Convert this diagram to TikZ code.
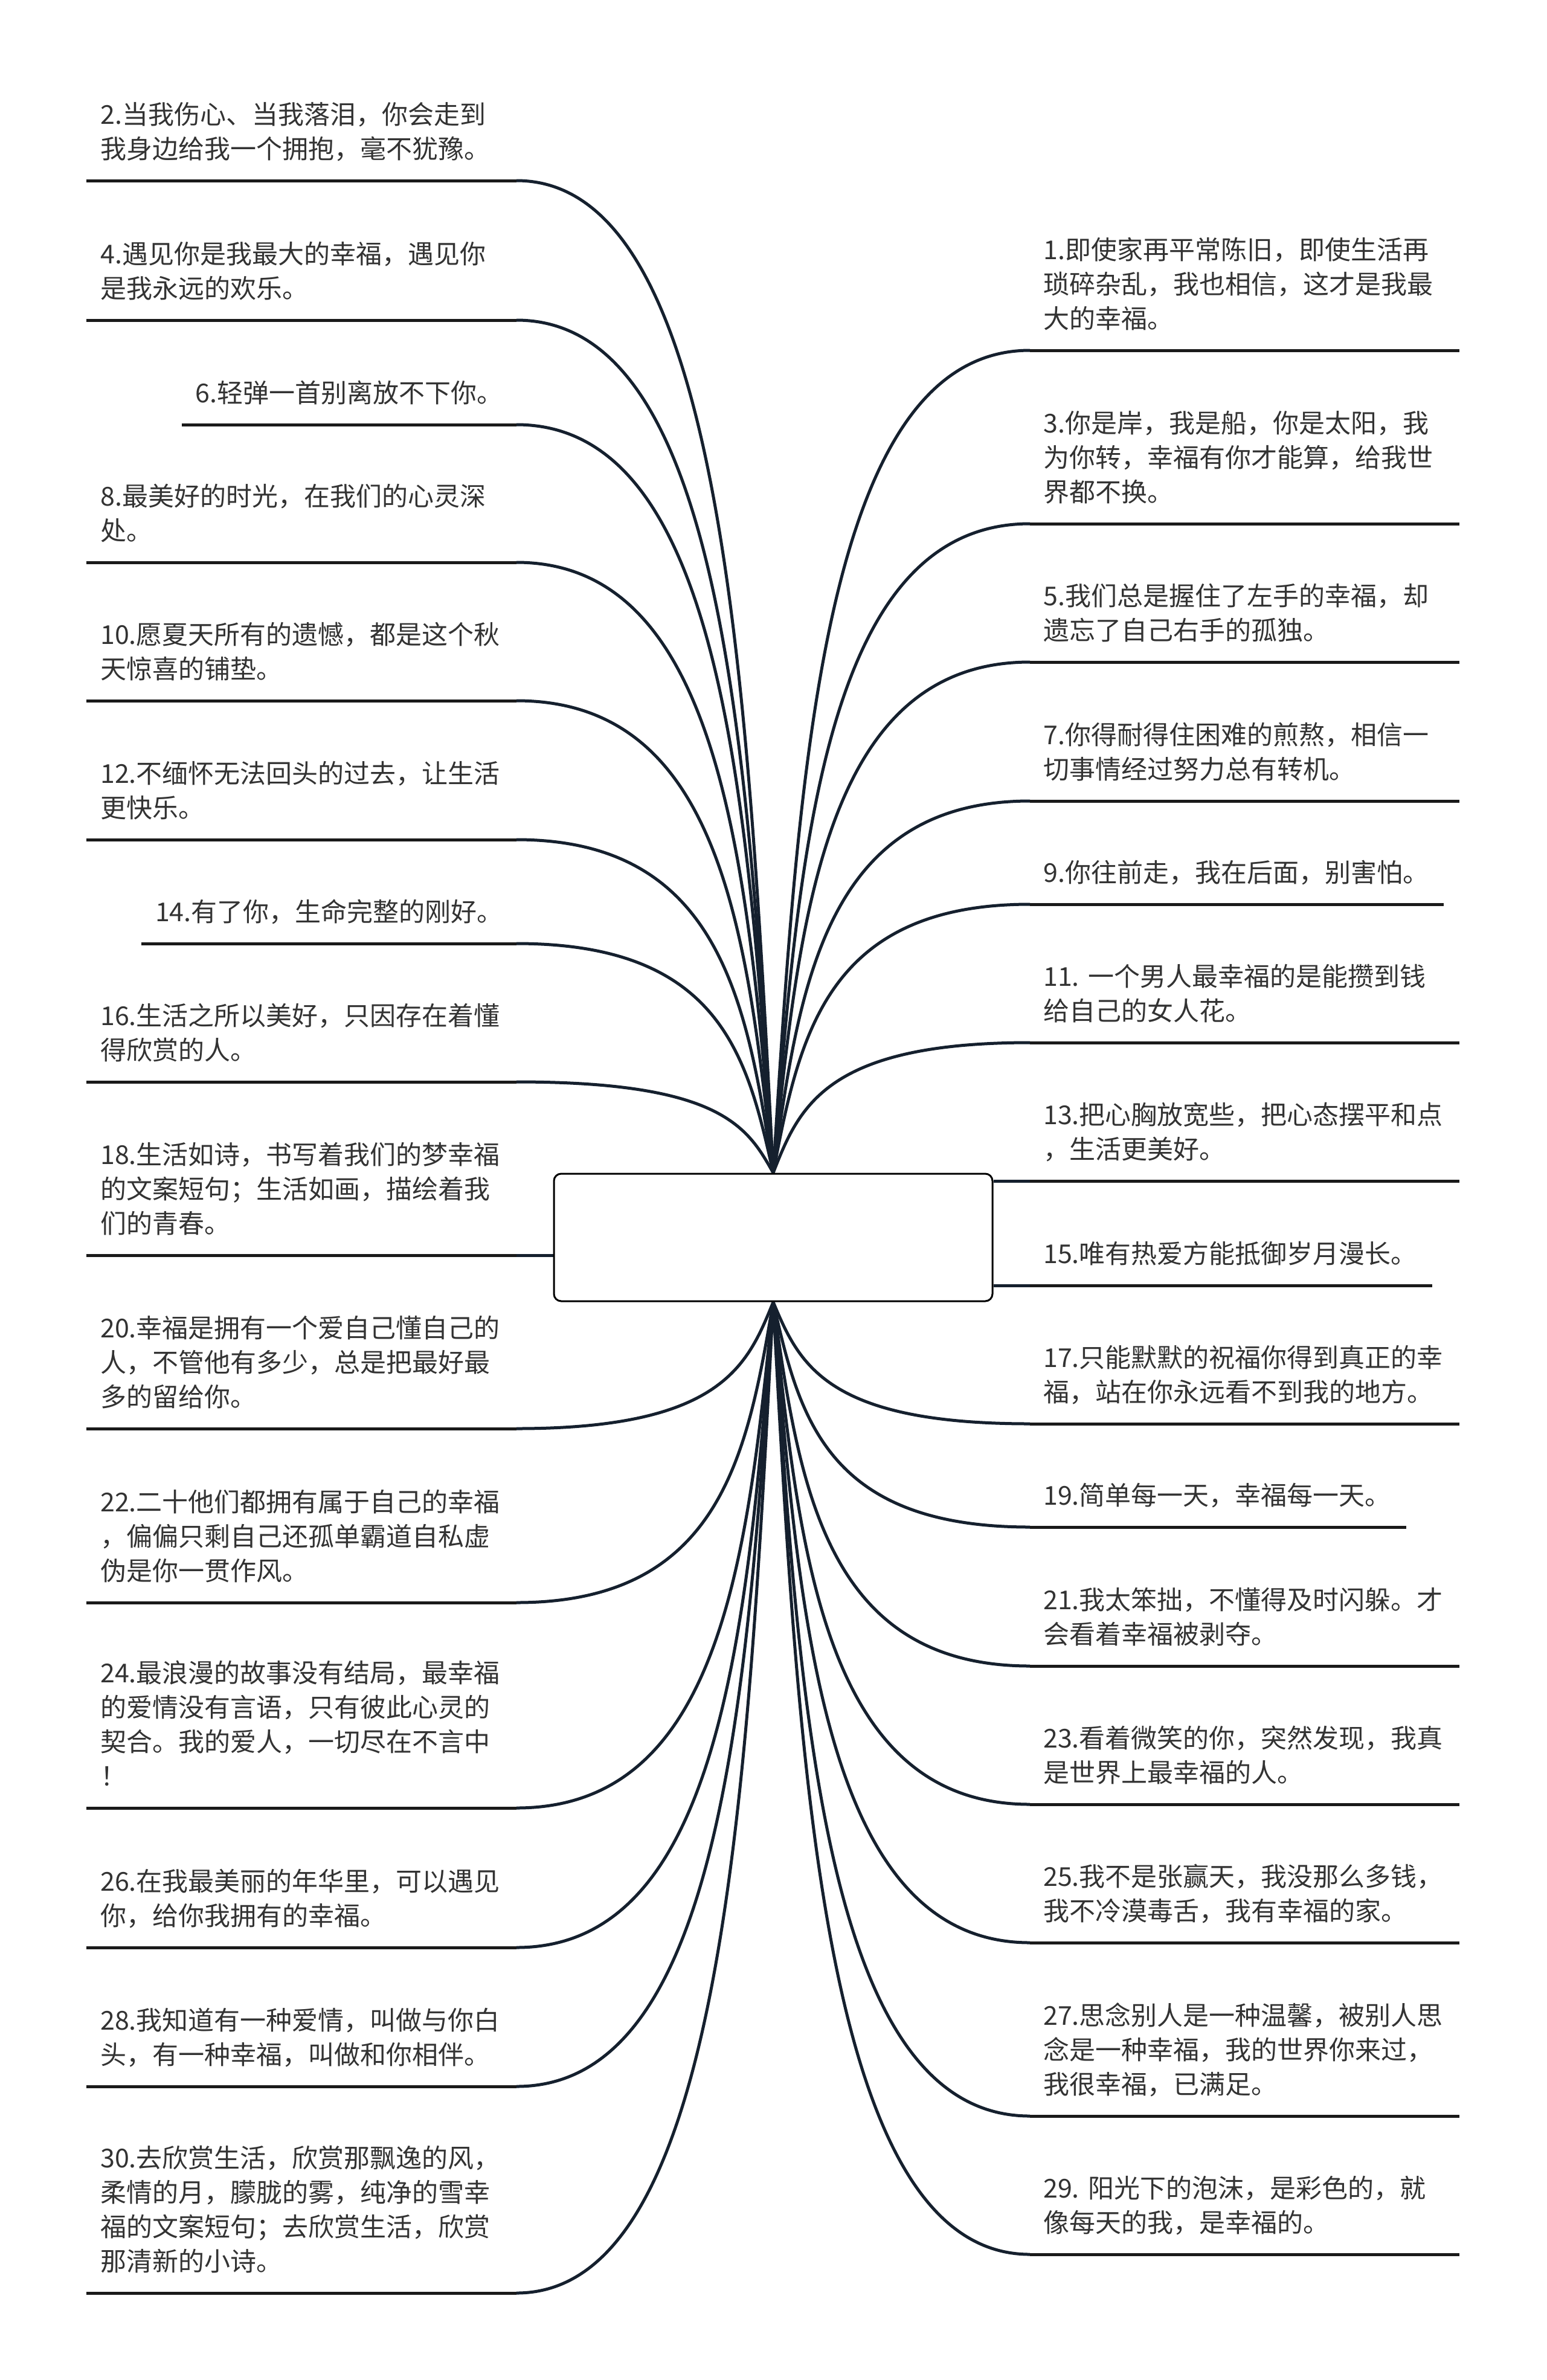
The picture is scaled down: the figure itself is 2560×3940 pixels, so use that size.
\documentclass[tikz,border=0pt]{standalone}
\usepackage{fontspec}
\setmainfont{Noto Sans CJK SC}
\usetikzlibrary{calc,backgrounds}
\definecolor{txt}{HTML}{333333}
\definecolor{uln}{HTML}{1A1A1A}
\definecolor{brn}{HTML}{15202E}
\frenchspacing
\newcommand\mybranch[2]{%
  \draw[brline] let \p1=(#1), \p2=(#2) in
    (\p1) .. controls ({\x1+0.8*(\x2-\x1)},{\y1}) and ({\x1+0.9*(\x2-\x1)},{\y1+0.5*(\y2-\y1)}) .. (\p2);}
\begin{document}
\begin{tikzpicture}[x=1pt,y=-1pt,
  item/.style={anchor=base west, inner sep=0pt, text width=668pt, align=left,
    font=\fontsize{43}{57}\selectfont, text=txt},
  singleL/.style={anchor=base east, inner sep=0pt, font=\fontsize{43}{57}\selectfont, text=txt},
  singleR/.style={anchor=base west, inner sep=0pt, font=\fontsize{43}{57}\selectfont, text=txt},
  uline/.style={draw=uln, line width=5pt},
  brline/.style={draw=brn, line width=5pt},
  hub/.style={draw=black, line width=3pt, fill=white, rounded corners=12pt,
    minimum width=726pt, minimum height=211pt, inner sep=0pt}]
\useasboundingbox (0,0) rectangle (2560,3940);

% central box
\node[hub] (c) at (1280,2048.5) {};

% ---------- left items ----------
\node[item] (t2) at (166,205) {2.当我伤心、当我落泪，你会走到\\我身边给我一个拥抱，毫不犹豫。};
\node[item] (t4) at (166,436) {4.遇见你是我最大的幸福，遇见你\\是我永远的欢乐。};
\node[singleL] (t6) at (833,666) {6.轻弹一首别离放不下你。};
\node[item] (t8) at (166,837) {8.最美好的时光，在我们的心灵深\\处。};
\node[item] (t10) at (166,1066) {10.愿夏天所有的遗憾，都是这个秋\\天惊喜的铺垫。};
\node[item] (t12) at (166,1296) {12.不缅怀无法回头的过去，让生活\\更快乐。};
\node[singleL] (t14) at (833,1525) {14.有了你，生命完整的刚好。};
\node[item] (t16) at (166,1697) {16.生活之所以美好，只因存在着懂\\得欣赏的人。};
\node[item] (t18) at (166,1927) {18.生活如诗，书写着我们的梦幸福\\的文案短句；生活如画，描绘着我\\们的青春。};
\node[item] (t20) at (166,2214) {20.幸福是拥有一个爱自己懂自己的\\人，不管他有多少，总是把最好最\\多的留给你。};
\node[item] (t22) at (166,2502) {22.二十他们都拥有属于自己的幸福\\，偏偏只剩自己还孤单霸道自私虚\\伪是你一贯作风。};
\node[item] (t24) at (166,2785) {24.最浪漫的故事没有结局，最幸福\\的爱情没有言语，只有彼此心灵的\\契合。我的爱人，一切尽在不言中\\！};
\node[item] (t26) at (166,3130) {26.在我最美丽的年华里，可以遇见\\你，给你我拥有的幸福。};
\node[item] (t28) at (166,3360) {28.我知道有一种爱情，叫做与你白\\头，有一种幸福，叫做和你相伴。};
\node[item] (t30) at (166,3588) {30.去欣赏生活，欣赏那飘逸的风，\\柔情的月，朦胧的雾，纯净的雪幸\\福的文案短句；去欣赏生活，欣赏\\那清新的小诗。};

% ---------- right items ----------
\node[item] (t1) at (1727,429) {1.即使家再平常陈旧，即使生活再\\琐碎杂乱，我也相信，这才是我最\\大的幸福。};
\node[item] (t3) at (1727,716) {3.你是岸，我是船，你是太阳，我\\为你转，幸福有你才能算，给我世\\界都不换。};
\node[item] (t5) at (1727,1002) {5.我们总是握住了左手的幸福，却\\遗忘了自己右手的孤独。};
\node[item] (t7) at (1727,1232) {7.你得耐得住困难的煎熬，相信一\\切事情经过努力总有转机。};
\node[singleR] (t9) at (1727,1460) {9.你往前走，我在后面，别害怕。};
\node[item] (t11) at (1727,1632) {11. 一个男人最幸福的是能攒到钱\\给自己的女人花。};
\node[item] (t13) at (1727,1861) {13.把心胸放宽些，把心态摆平和点\\，生活更美好。};
\node[singleR] (t15) at (1727,2091) {15.唯有热爱方能抵御岁月漫长。};
\node[item] (t17) at (1727,2263) {17.只能默默的祝福你得到真正的幸\\福，站在你永远看不到我的地方。};
\node[singleR] (t19) at (1727,2491) {19.简单每一天，幸福每一天。};
\node[item] (t21) at (1727,2664) {21.我太笨拙，不懂得及时闪躲。才\\会看着幸福被剥夺。};
\node[item] (t23) at (1727,2893) {23.看着微笑的你，突然发现，我真\\是世界上最幸福的人。};
\node[item] (t25) at (1727,3122) {25.我不是张赢天，我没那么多钱，\\我不冷漠毒舌，我有幸福的家。};
\node[item] (t27) at (1727,3352) {27.思念别人是一种温馨，被别人思\\念是一种幸福，我的世界你来过，\\我很幸福，已满足。};
\node[item] (t29) at (1727,3638) {29. 阳光下的泡沫，是彩色的，就\\像每天的我，是幸福的。};

% ---------- underline end points ----------
\foreach \k/\y in {2/299,4/530,6/703,8/931,10/1160,12/1390,14/1562,16/1791,18/2078,20/2365,22/2653,24/2993,26/3224,28/3454,30/3796}{
  \coordinate (a\k) at (143,\y);
  \coordinate (b\k) at (855,\y);
}
\foreach \k/\y in {1/580,3/867,5/1096,7/1326,9/1497,11/1726,13/1955,15/2128,17/2357,19/2528,21/2758,23/2987,25/3216,27/3503,29/3732}{
  \coordinate (b\k) at (1705,\y);
  \coordinate (a\k) at (2416,\y);
}

\begin{scope}[on background layer]
\fill[white] (0,0) rectangle (2560,3940);
% left connectors
\foreach \k in {2,4,6,8,10,12,14,16}{\mybranch{b\k}{c.north}}
\foreach \k in {20,22,24,26,28,30}{\mybranch{b\k}{c.south}}
\draw[brline] (b18) -- (c.west |- b18);
% right connectors
\foreach \k in {1,3,5,7,9,11}{\mybranch{b\k}{c.north}}
\foreach \k in {17,19,21,23,25,27,29}{\mybranch{b\k}{c.south}}
\draw[brline] (c.east |- b13) -- (b13);
\draw[brline] (c.east |- b15) -- (b15);
\end{scope}

% underlines
\foreach \k in {2,4,8,10,12,16,18,20,22,24,26,28,30}{\draw[uline] (a\k) -- (b\k);}
\draw[uline] (b6) -- (t6.west |- b6) -- ++(-23,0);
\draw[uline] (b14) -- (t14.west |- b14) -- ++(-23,0);
\foreach \k in {1,3,5,7,11,13,17,21,23,25,27,29}{\draw[uline] (b\k) -- (a\k);}
\draw[uline] (b9) -- (t9.east |- b9) -- ++(25,0);
\draw[uline] (b15) -- (t15.east |- b15) -- ++(25,0);
\draw[uline] (b19) -- (t19.east |- b19) -- ++(25,0);
\end{tikzpicture}
\end{document}
